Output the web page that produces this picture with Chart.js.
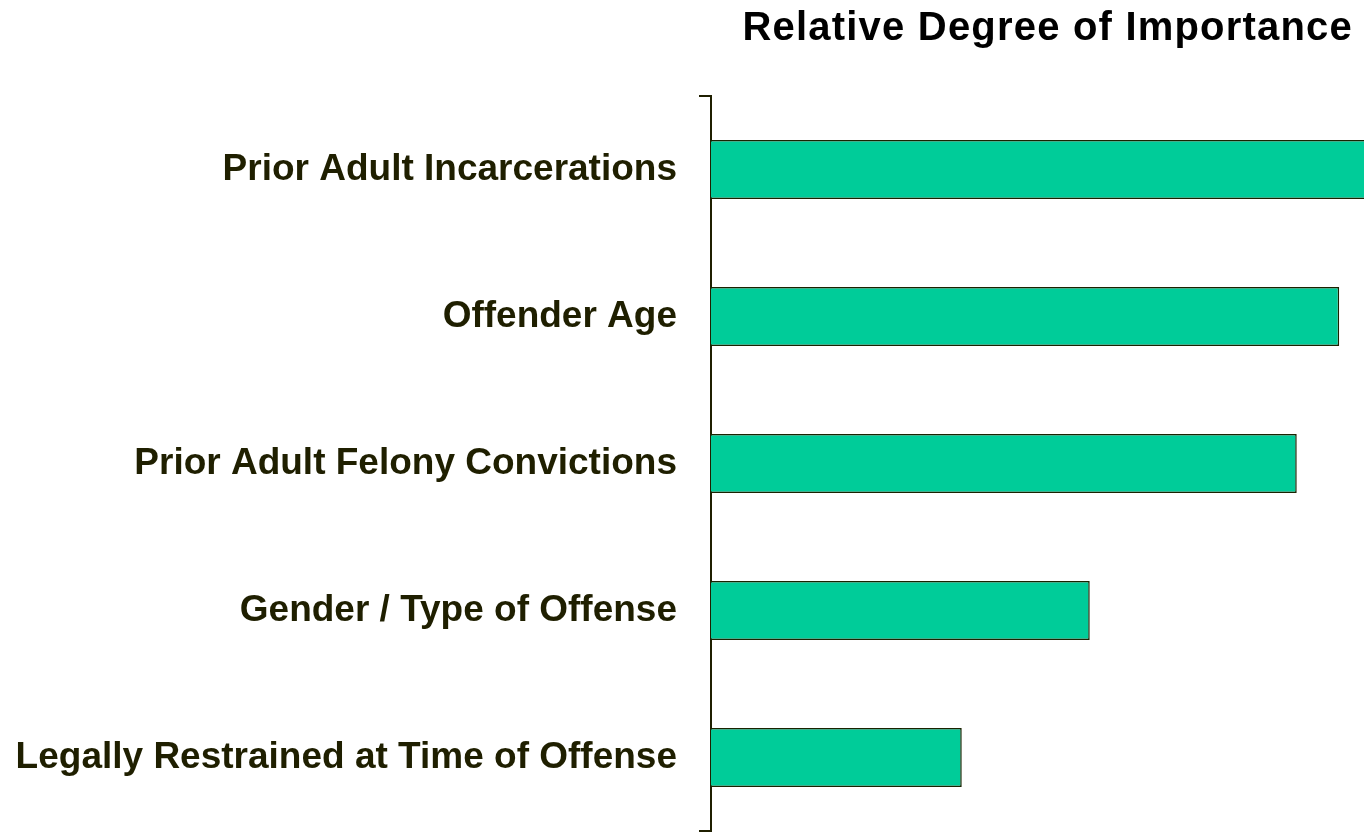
<!DOCTYPE html>
<html>
<head>
<meta charset="utf-8">
<script src="https://cdn.jsdelivr.net/npm/chart.js@4/dist/chart.umd.min.js"></script>
<style>
html,body{margin:0;padding:0;background:#fff;}
#wrap{width:1364px;height:832px;position:relative;}
</style>
</head>
<body>
<div id="wrap"><canvas id="c"></canvas></div>
<script>
const chartTitle = "Relative Degree of Importance";
const categories = [
  "Prior Adult Incarcerations",
  "Offender Age",
  "Prior Adult Felony Convictions",
  "Gender / Type of Offense",
  "Legally Restrained at Time of Offense"
];
const importance = [101, 96.2, 89.7, 58.0, 38.4];
const axisMin = 0;
const axisMax = 100;

const titlePlugin = {
  id: 'rightTitle',
  afterDraw(chart) {
    const ctx = chart.ctx;
    ctx.save();
    ctx.font = 'bold 40px "Liberation Sans", Arial, sans-serif';
    try { ctx.letterSpacing = '1.2px'; } catch (e) {}
    ctx.fillStyle = '#000000';
    ctx.textAlign = 'right';
    ctx.textBaseline = 'alphabetic';
    ctx.fillText(chartTitle, 1353, 40);
    ctx.restore();
  }
};

new Chart(document.getElementById('c'), {
  type: 'bar',
  data: {
    labels: categories,
    datasets: [{
      data: importance,
      backgroundColor: '#00CC99',
      borderColor: '#1a2200',
      borderWidth: 1.5,
      borderSkipped: 'start',
      categoryPercentage: 1,
      barPercentage: 0.4
    }]
  },
  options: {
    indexAxis: 'y',
    responsive: true,
    maintainAspectRatio: false,
    animation: false,
    layout: { padding: { top: 96, bottom: 1, left: 0, right: 0 } },
    plugins: {
      legend: { display: false },
      tooltip: { enabled: false },
      title: { display: false }
    },
    scales: {
      x: { display: false, min: axisMin, max: axisMax },
      y: {
        offset: true,
        afterFit: (s) => { s.width = 711; s.paddingTop = 0; s.paddingBottom = 0; },
        border: { display: true, color: '#1f1f00', width: 2 },
        grid: {
          offset: true,
          drawOnChartArea: false,
          drawTicks: true,
          tickLength: 12,
          lineWidth: 2,
          color: (ctx) => (ctx.type !== 'tick' || ctx.index === 0) ? '#1f1f00' : 'rgba(0,0,0,0)'
        },
        ticks: {
          autoSkip: false,
          padding: 22,
          color: '#1f1f00',
          font: { family: '"Liberation Sans", Arial, sans-serif', size: 37, weight: 'bold' }
        }
      }
    }
  },
  plugins: [titlePlugin]
});
</script>
</body>
</html>
